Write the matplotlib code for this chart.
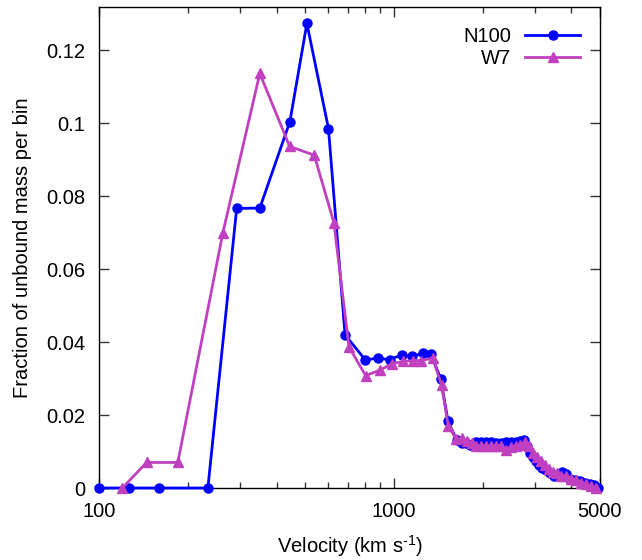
import numpy as np
import matplotlib.pyplot as plt
from matplotlib.ticker import FixedLocator, NullFormatter

plt.rcParams['font.family'] = ['Liberation Sans', 'DejaVu Sans']

# N100 model
n100_v = [100, 126, 160, 234, 293, 351, 444, 507, 600, 683, 798, 881, 970, 1063,
          1152, 1256, 1333, 1441, 1526, 1633, 1698, 1756, 1812, 1898, 1974, 2053,
          2135, 2220, 2308, 2400, 2495, 2594, 2677, 2762, 2827, 2894, 2962, 3033,
          3105, 3178, 3280, 3383, 3491, 3602, 3715, 3833, 3955, 4113, 4277, 4447,
          4624, 4770, 4920]
n100_f = [0, 0, 0, 0, 0.0766, 0.0767, 0.1004, 0.1273, 0.0985, 0.0420, 0.0352,
          0.0355, 0.0352, 0.0365, 0.0361, 0.0369, 0.0368, 0.0300, 0.0183, 0.0131,
          0.0124, 0.0122, 0.0119, 0.0125, 0.0125, 0.0127, 0.0125, 0.0123, 0.0122,
          0.0125, 0.0127, 0.0125, 0.0129, 0.0132, 0.0116, 0.0097, 0.0084, 0.0073,
          0.0064, 0.0056, 0.0048, 0.0040, 0.0034, 0.0037, 0.0044, 0.0037, 0.0026,
          0.0021, 0.0018, 0.0015, 0.0011, 0.0007, 0.0001]

# W7 model
w7_v = [120, 145, 185, 263, 351, 443, 537, 626, 704, 802, 897, 983, 1076, 1164,
        1238, 1354, 1452, 1530, 1624, 1702, 1770, 1840, 1898, 1974, 2053, 2135,
        2220, 2308, 2400, 2495, 2594, 2677, 2784, 2872, 2962, 3057, 3154, 3254,
        3357, 3464, 3574, 3687, 3833, 3986, 4145, 4310, 4482, 4660, 4845]
w7_f = [0, 0.0070, 0.0070, 0.0699, 0.1136, 0.0936, 0.0912, 0.0727, 0.0387,
        0.0308, 0.0323, 0.0340, 0.0347, 0.0349, 0.0349, 0.0356, 0.0281, 0.0169,
        0.0135, 0.0136, 0.0130, 0.0122, 0.0114, 0.0116, 0.0116, 0.0114, 0.0116,
        0.0114, 0.0105, 0.0111, 0.0114, 0.0119, 0.0125, 0.0114, 0.0097, 0.0084,
        0.0073, 0.0062, 0.0053, 0.0045, 0.0040, 0.0034, 0.0032, 0.0026, 0.0021,
        0.0015, 0.0010, 0.0005, 0.0001]

fs = 14.5

fig = plt.figure(figsize=(6.42, 5.6), dpi=100)
ax = fig.add_axes([99 / 642, 1 - 488 / 560, 501 / 642, 481 / 560])

ax.plot(n100_v, n100_f, color='#0000ff', lw=2, marker='o', ms=6.5,
        label='N100', clip_on=False, zorder=3)
ax.plot(w7_v, w7_f, color='#c040c0', lw=2, marker='^', ms=7,
        label='W7', clip_on=False, zorder=4)

ax.set_xscale('log')
ax.set_xlim(100, 5000)
ax.set_ylim(0, 0.1318)

ax.xaxis.set_major_locator(FixedLocator([100, 1000, 5000]))
ax.set_xticklabels(['100', '1000', '5000'])
minors = [200, 300, 400, 500, 600, 700, 800, 900, 2000, 3000, 4000]
ax.xaxis.set_minor_locator(FixedLocator(minors))
ax.xaxis.set_minor_formatter(NullFormatter())
ax.set_yticks(np.arange(0, 0.121, 0.02))
ax.set_yticklabels(['0', '0.02', '0.04', '0.06', '0.08', '0.1', '0.12'])

ax.tick_params(which='both', direction='in', top=True, right=True,
               labelsize=fs, width=1, colors='#333333', labelcolor='black')
ax.tick_params(which='major', length=7, pad=10)
ax.tick_params(which='minor', length=4)
for s in ax.spines.values():
    s.set_linewidth(1)

ax.set_xlabel('Velocity (km s$^{\\mathregular{\u2010}\\mathregular{1}}$)',
              fontsize=fs, labelpad=9)
ax.set_ylabel('Fraction of unbound mass per bin', fontsize=fs, labelpad=10)

ax.legend(loc='upper right', frameon=False, markerfirst=False, fontsize=fs,
          handlelength=2.7, handletextpad=0.7, labelspacing=0.15,
          borderaxespad=0.6, borderpad=0.4)

fig.savefig('out.png', dpi=100)
